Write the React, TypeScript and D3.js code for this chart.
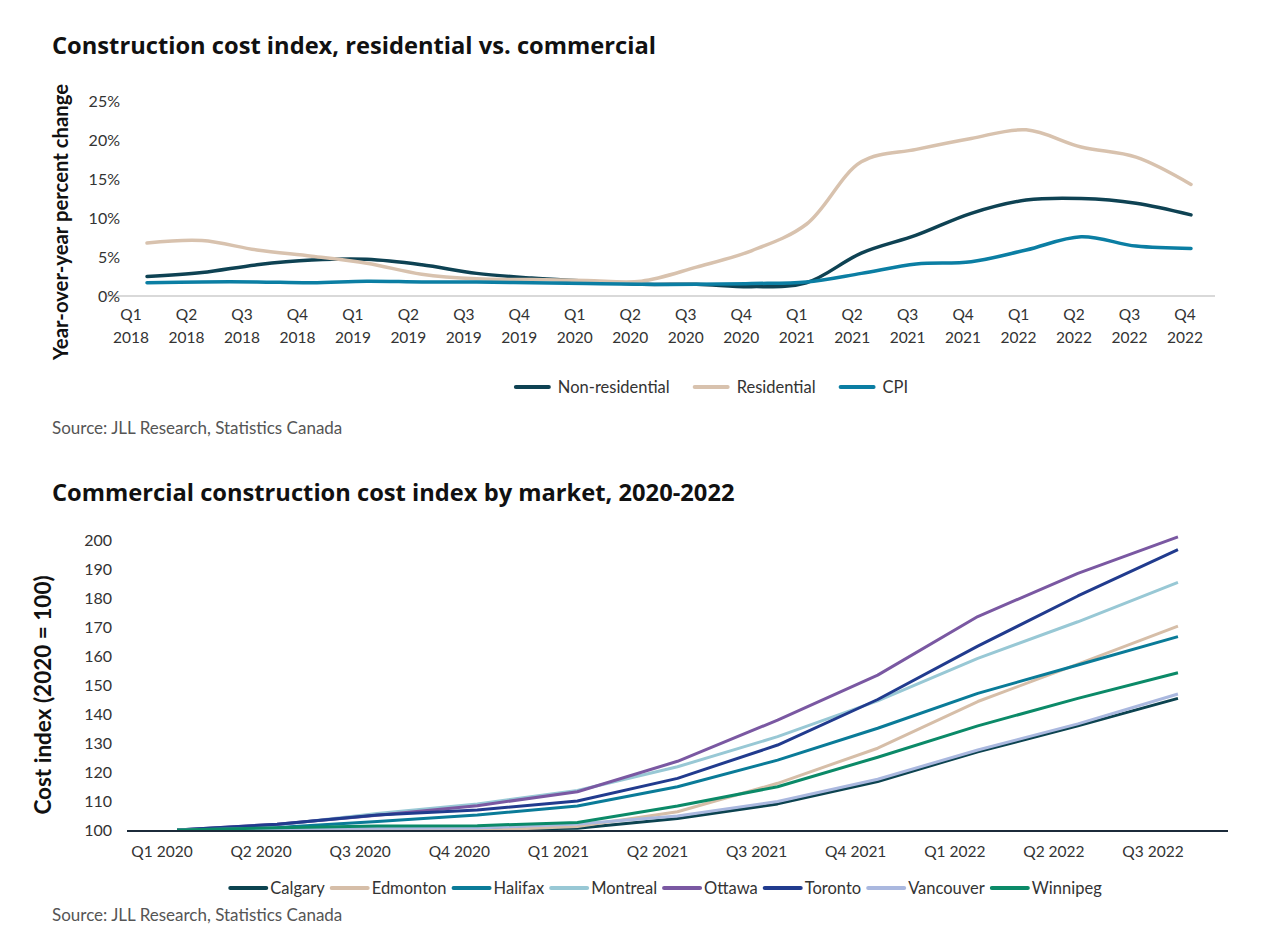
import { useEffect, useRef } from 'react'
import * as d3 from 'd3'

// Top chart: year-over-year % change, quarterly 2018-2022
const QUARTERS_A = [
  'Q1 2018', 'Q2 2018', 'Q3 2018', 'Q4 2018',
  'Q1 2019', 'Q2 2019', 'Q3 2019', 'Q4 2019',
  'Q1 2020', 'Q2 2020', 'Q3 2020', 'Q4 2020',
  'Q1 2021', 'Q2 2021', 'Q3 2021', 'Q4 2021',
  'Q1 2022', 'Q2 2022', 'Q3 2022', 'Q4 2022',
]
const NON_RESIDENTIAL = [2.5, 3.0, 4.0, 4.6, 4.7, 4.0, 2.9, 2.3, 1.9, 1.5, 1.5, 1.2, 1.7, 5.5, 7.8, 10.6, 12.3, 12.5, 11.9, 10.4]
const RESIDENTIAL = [6.8, 7.1, 5.9, 5.1, 4.2, 2.8, 2.2, 2.1, 2.0, 1.9, 3.7, 5.8, 9.2, 17.2, 18.8, 20.2, 21.3, 19.1, 17.8, 14.3]
const CPI = [1.7, 1.8, 1.8, 1.7, 1.9, 1.8, 1.8, 1.7, 1.6, 1.5, 1.5, 1.6, 1.8, 2.9, 4.1, 4.4, 5.9, 7.6, 6.4, 6.1]
const PCT_TICKS = [0, 5, 10, 15, 20, 25]

// Bottom chart: cost index by market (2020 = 100)
const QUARTERS_B = [
  'Q1 2020', 'Q2 2020', 'Q3 2020', 'Q4 2020',
  'Q1 2021', 'Q2 2021', 'Q3 2021', 'Q4 2021',
  'Q1 2022', 'Q2 2022', 'Q3 2022',
]
const CALGARY = [100, 100.3, 99.8, 100.2, 100.6, 104.0, 109.0, 116.7, 127.0, 135.9, 145.4]
const EDMONTON = [100, 100.2, 100.0, 99.8, 101.2, 106.3, 116.1, 128.2, 144.3, 157.2, 170.3]
const HALIFAX = [100, 100.9, 102.9, 105.2, 108.3, 114.9, 124.1, 135.1, 147.1, 156.9, 166.7]
const MONTREAL = [100, 101.7, 105.7, 109.0, 113.6, 121.8, 132.2, 144.5, 159.2, 171.8, 185.4]
const OTTAWA = [100, 102.0, 105.1, 108.4, 113.2, 123.7, 137.9, 153.4, 173.6, 188.5, 201.1]
const TORONTO = [100, 102.0, 105.2, 106.9, 110.0, 117.8, 129.3, 145.0, 163.4, 180.7, 196.7]
const VANCOUVER = [100, 100.5, 100.6, 100.7, 102.1, 104.8, 109.8, 117.5, 127.6, 136.6, 146.9]
const WINNIPEG = [100, 100.8, 101.4, 101.5, 102.6, 108.3, 114.9, 125.1, 135.9, 145.4, 154.2]
const INDEX_TICKS = [100, 110, 120, 130, 140, 150, 160, 170, 180, 190, 200]

const FONT = "Lato, 'Open Sans', sans-serif"
const TITLE_FONT = "'Open Sans', Lato, sans-serif"
const TEXT = '#333333'

type Item = { name: string; color: string }

function legend(
  g: d3.Selection<SVGGElement, unknown, null, undefined>,
  items: Item[],
  cx: number,
  cy: number,
  opts: { sample: number; gapIn: number; gapOut: number; size: number; width: number },
) {
  const groups = g
    .selectAll('g.item')
    .data(items)
    .join('g')
    .attr('class', 'item')
  groups
    .append('line')
    .attr('x1', 0)
    .attr('x2', opts.sample)
    .attr('y1', 0)
    .attr('y2', 0)
    .attr('stroke', (d) => d.color)
    .attr('stroke-width', opts.width)
    .attr('stroke-linecap', 'round')
  groups
    .append('text')
    .attr('x', opts.sample + opts.gapIn)
    .attr('dy', '0.35em')
    .attr('font-size', opts.size)
    .attr('fill', TEXT)
    .text((d) => d.name)
  const widths: number[] = []
  groups.each(function () {
    const t = (this as SVGGElement).querySelector('text') as SVGTextElement
    widths.push(opts.sample + opts.gapIn + t.getComputedTextLength())
  })
  const total = d3.sum(widths) + opts.gapOut * (widths.length - 1)
  let x = cx - total / 2
  groups.attr('transform', (_, i) => {
    const tr = `translate(${x},${cy})`
    x += widths[i] + opts.gapOut
    return tr
  })
}

export default function App() {
  const ref = useRef<SVGSVGElement>(null)

  useEffect(() => {
    const svg = d3.select(ref.current!)
    svg.selectAll('*').remove()
    svg.attr('font-family', FONT)

    // ---------- top chart ----------
    const top = svg.append('g')
    top
      .append('text')
      .attr('x', 52)
      .attr('y', 54)
      .attr('font-family', TITLE_FONT)
      .attr('font-size', 23.7)
      .attr('font-weight', 700)
      .attr('fill', '#111')
      .text('Construction cost index, residential vs. commercial')

    const xA = d3.scalePoint<string>().domain(QUARTERS_A).range([147, 1191])
    const xALabel = d3.scalePoint<string>().domain(QUARTERS_A).range([131, 1185])
    const yA = d3.scaleLinear().domain([0, 25]).range([296, 101])

    top
      .append('line')
      .attr('x1', 107)
      .attr('x2', 1215)
      .attr('y1', yA(0))
      .attr('y2', yA(0))
      .attr('stroke', '#d9d9d9')
      .attr('stroke-width', 2)

    top
      .selectAll('text.ytick')
      .data(PCT_TICKS)
      .join('text')
      .attr('class', 'ytick')
      .attr('x', 120)
      .attr('y', (d) => yA(d))
      .attr('dy', '0.35em')
      .attr('text-anchor', 'end')
      .attr('font-size', 16)
      .attr('fill', TEXT)
      .text((d) => `${d}%`)

    const xt = top
      .selectAll('text.xtick')
      .data(QUARTERS_A)
      .join('text')
      .attr('class', 'xtick')
      .attr('text-anchor', 'middle')
      .attr('font-size', 15.5)
      .attr('fill', TEXT)
    xt.append('tspan')
      .attr('x', (d) => xALabel(d)!)
      .attr('y', 320)
      .text((d) => d.split(' ')[0])
    xt.append('tspan')
      .attr('x', (d) => xALabel(d)!)
      .attr('y', 343)
      .text((d) => d.split(' ')[1])

    top
      .append('text')
      .attr('transform', `translate(68,222) rotate(-90)`)
      .attr('text-anchor', 'middle')
      .attr('font-size', 20.3)
      .attr('font-weight', 700)
      .attr('fill', '#111')
      .text('Year-over-year percent change')

    const seriesA = [
      { name: 'Non-residential', color: '#0e4253', values: NON_RESIDENTIAL },
      { name: 'Residential', color: '#d8c2ae', values: RESIDENTIAL },
      { name: 'CPI', color: '#0b7ea3', values: CPI },
    ]
    const lineA = d3
      .line<number>()
      .x((_, i) => xA(QUARTERS_A[i])!)
      .y((d) => yA(d))
      .curve(d3.curveCatmullRom.alpha(0.5))
    top
      .selectAll('path.series')
      .data(seriesA)
      .join('path')
      .attr('class', 'series')
      .attr('d', (s) => lineA(s.values))
      .attr('fill', 'none')
      .attr('stroke', (s) => s.color)
      .attr('stroke-width', 3.5)
      .attr('stroke-linecap', 'round')

    legend(top.append('g'), seriesA, 712, 387, { sample: 33, gapIn: 9, gapOut: 25, size: 16.5, width: 4 })

    top
      .append('text')
      .attr('x', 52)
      .attr('y', 434)
      .attr('font-size', 17)
      .attr('fill', '#555')
      .text('Source: JLL Research, Statistics Canada')

    // ---------- bottom chart ----------
    const bot = svg.append('g')
    bot
      .append('text')
      .attr('x', 52)
      .attr('y', 501)
      .attr('font-family', TITLE_FONT)
      .attr('font-size', 23.7)
      .attr('font-weight', 700)
      .attr('fill', '#111')
      .text('Commercial construction cost index by market, 2020-2022')

    const xB = d3.scaleBand<string>().domain(QUARTERS_B).range([127, 1228])
    const xBLabel = d3.scalePoint<string>().domain(QUARTERS_B).range([162, 1153])
    const yB = d3.scaleLinear().domain([100, 200]).range([830, 540])

    bot
      .selectAll('text.ytick')
      .data(INDEX_TICKS)
      .join('text')
      .attr('class', 'ytick')
      .attr('x', 112)
      .attr('y', (d) => yB(d))
      .attr('dy', '0.35em')
      .attr('text-anchor', 'end')
      .attr('font-size', 16)
      .attr('fill', TEXT)
      .text((d) => d)

    bot
      .selectAll('text.xtick')
      .data(QUARTERS_B)
      .join('text')
      .attr('class', 'xtick')
      .attr('x', (d) => xBLabel(d)!)
      .attr('y', 857)
      .attr('text-anchor', 'middle')
      .attr('font-size', 15.5)
      .attr('fill', TEXT)
      .text((d) => d)

    bot
      .append('text')
      .attr('transform', `translate(51,695) rotate(-90)`)
      .attr('text-anchor', 'middle')
      .attr('font-size', 22.5)
      .attr('font-weight', 700)
      .attr('fill', '#111')
      .text('Cost index (2020 = 100)')

    const seriesB = [
      { name: 'Calgary', color: '#0c4350', values: CALGARY },
      { name: 'Edmonton', color: '#d6bea8', values: EDMONTON },
      { name: 'Halifax', color: '#0a7b98', values: HALIFAX },
      { name: 'Montreal', color: '#98c8d5', values: MONTREAL },
      { name: 'Ottawa', color: '#7a58a2', values: OTTAWA },
      { name: 'Toronto', color: '#213b8e', values: TORONTO },
      { name: 'Vancouver', color: '#aab8df', values: VANCOUVER },
      { name: 'Winnipeg', color: '#0b8a68', values: WINNIPEG },
    ]
    const half = xB.bandwidth() / 2
    const lineB = d3
      .line<number>()
      .x((_, i) => xB(QUARTERS_B[i])! + half)
      .y((d) => yB(d))
    bot
      .selectAll('path.series')
      .data(seriesB)
      .join('path')
      .attr('class', 'series')
      .attr('d', (s) => lineB(s.values))
      .attr('fill', 'none')
      .attr('stroke', (s) => s.color)
      .attr('stroke-width', 3)
      .attr('stroke-linejoin', 'round')

    bot
      .append('line')
      .attr('x1', 127)
      .attr('x2', 1228)
      .attr('y1', 831)
      .attr('y2', 831)
      .attr('stroke', '#1c2b3a')
      .attr('stroke-width', 2)

    legend(bot.append('g'), seriesB, 666, 888, { sample: 36, gapIn: 4, gapOut: 7, size: 16.5, width: 4 })

    bot
      .append('text')
      .attr('x', 52)
      .attr('y', 921)
      .attr('font-size', 17)
      .attr('fill', '#555')
      .text('Source: JLL Research, Statistics Canada')
  }, [])

  return (
    <svg
      ref={ref}
      width={1280}
      height={945}
      style={{ position: 'absolute', left: 0, top: 0, background: '#fff' }}
    />
  )
}
